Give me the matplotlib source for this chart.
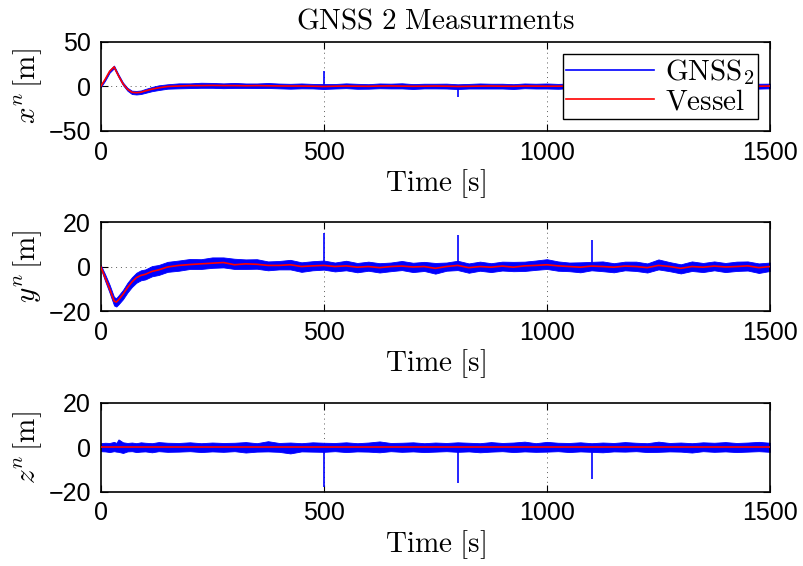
import numpy as np
import matplotlib
matplotlib.use('Agg')
import matplotlib.pyplot as plt
from matplotlib.lines import Line2D

plt.rcParams['font.family'] = ['Liberation Sans', 'DejaVu Sans']
plt.rcParams['mathtext.fontset'] = 'cm'

# Time knots [s]
t = np.array([0, 10, 20, 30, 35, 40, 50, 60, 70, 80, 90, 100, 115, 130, 150,
              175, 200, 225, 250, 275, 300, 325, 350, 375, 400, 425, 450, 475,
              500, 525, 550, 575, 600, 625, 650, 675, 700, 725, 750, 775,
              800, 825, 850, 875, 900, 925, 950, 975, 1000, 1025, 1050, 1075,
              1100, 1125, 1150, 1175, 1200, 1225, 1250, 1275, 1300, 1325, 1350,
              1375, 1400, 1425, 1450, 1475, 1500])

# Vessel position (red)
x_vessel = np.array([0, 8, 17, 22, 17, 12, 3, -3, -6.5, -7, -6.5, -5, -3, -1.5, 0,
                     0.5, 1, 1, 1.2, 1, 1, 0.8, 1, 0.8, 0.6, 0.5, 0.5, 0.3,
                     0, 0.3, 0.5, 0.3, 0.2, 0.5, 0.6, 0.4, 0.2, 0.3, 0.5, 0.3,
                     0, 0.2, 0.4, 0.5, 0.3, 0.2, 0.5, 0.4, 0.3, 0.3, 0.5, 0.4,
                     0.2, 0.3, 0.5, 0.3, 0.2, 0.4, 0.5, 0.3, 0.2, 0.4, 0.3,
                     0.5, 0.3, 0.2, 0.4, 0.3, 0.5])
y_vessel = np.array([0, -5, -10, -15.5, -16, -15, -12.5, -9.5, -7, -5, -4, -3.5, -2.2, -1.5, -0.2,
                     0.5, 0.9, 1.2, 1.5, 1.8, 0.8, 1.2, 1, 0.5, 0.5, 0.8, 0, 0.3,
                     0.5, 0, 0.3, -0.3, 0, -0.5, 0, 0.2, -0.2, 0, -0.8, 0,
                     0.5, -0.5, 0, -0.3, 0.2, -0.3, 0.3, 0.5, 0.8, 0.3, 0, -0.3,
                     0.2, 0, -0.3, 0.2, 0, -0.5, 0.5, 0, -0.8, 0, -0.3,
                     0.2, -0.2, 0, 0.3, -0.5, 0])
z_vessel = np.zeros(len(t))

# GNSS2 noise envelope around vessel (upper / lower offsets)
x_hi = np.array([1, 1.5, 1.5, 1.5, 1.5, 1.5, 1.5, 1.5, 1.8, 2, 2, 2.2, 2.5, 2.8, 2.5,
                 3, 2.5, 3.2, 2.8, 2.5, 3, 2.6, 2.4, 3.1, 2.7, 2.5, 2.9, 2.6,
                 2.8, 2.5, 3, 2.7, 2.4, 2.9, 2.6, 3.2, 2.5, 2.8, 2.6, 2.9,
                 2.5, 2.7, 3, 2.6, 2.8, 2.4, 2.9, 2.7, 3.1, 2.6, 2.8, 2.5,
                 2.9, 2.7, 2.6, 3, 2.5, 2.8, 2.7, 2.9, 2.6, 2.8, 3,
                 2.5, 2.7, 2.9, 2.6, 2.8, 2.7])
x_lo = np.array([1, 1.5, 1.5, 1.5, 1.5, 1.5, 1.5, 1.8, 2, 2, 2, 2.2, 2.3, 2.5, 2.5,
                 2.6, 2.8, 2.5, 2.7, 2.9, 2.6, 2.4, 2.8, 2.5, 2.7, 3, 2.6, 2.5,
                 2.8, 2.6, 2.4, 2.9, 2.7, 2.5, 2.8, 2.6, 3, 2.5, 2.7, 2.6,
                 2.9, 2.5, 2.7, 2.8, 2.6, 3, 2.5, 2.7, 2.6, 2.9, 2.5, 2.8,
                 2.6, 2.7, 3, 2.5, 2.8, 2.6, 2.7, 2.5, 2.9, 2.6, 2.8,
                 2.7, 2.5, 2.6, 2.9, 2.7, 2.6])
y_hi = np.array([0.8, 1.5, 1.8, 1.8, 1.8, 2, 2, 2.2, 2.2, 2.2, 2.3, 2.2, 2.4, 2.2, 2.3,
                 2.2, 2.5, 2.1, 2.6, 2.3, 2.7, 2, 2.3, 1.8, 2, 2.2, 1.9, 2.1,
                 2.2, 1.8, 2.3, 1.9, 2.2, 2, 1.8, 2.3, 1.9, 2.1, 2.4, 1.8,
                 2.1, 1.9, 2.2, 1.8, 2, 2.4, 1.9, 2.2, 2.5, 2, 1.8, 2.2,
                 1.9, 2.3, 1.8, 2, 2.2, 1.9, 2.7, 2, 1.8, 2.3, 1.9,
                 2.1, 1.8, 2.2, 2, 1.9, 1.8])
y_lo = np.array([0.8, 1.5, 1.8, 2, 2, 2, 2.2, 2.2, 2.2, 2.3, 2.2, 2.3, 2.2, 2.3, 2.2,
                 2.4, 2, 2.3, 2.1, 2.2, 1.9, 2.3, 2, 2.2, 1.8, 2.1, 2.4, 2,
                 1.9, 2.2, 2, 2.3, 1.9, 2.2, 2.1, 1.8, 2.3, 2, 2.4, 1.9,
                 2.1, 2.3, 1.9, 2.2, 2, 1.8, 2.3, 2, 1.9, 2.2, 2.1, 2.3,
                 1.9, 2.1, 2.3, 1.9, 2, 2.2, 1.8, 2.1, 2.3, 2, 2.2,
                 1.9, 2.3, 2, 2.1, 2.4, 2])
z_hi = np.array([1.8, 2, 1.9, 2.4, 1.9, 3.5, 2.2, 1.9, 2.1, 1.8, 2.2, 2, 1.8, 2.3, 2,
                 1.9, 2.2, 1.8, 2.1, 1.9, 2, 2.3, 1.8, 2.7, 1.9, 2.1, 1.8, 2.2,
                 2, 1.9, 2.2, 1.8, 2.1, 2.6, 1.9, 2, 2.2, 1.8, 2.1, 1.9,
                 2.2, 2, 1.8, 2.3, 1.9, 2.1, 2.5, 1.8, 2.4, 2, 1.9, 2.2,
                 1.8, 2.1, 1.9, 2.3, 2, 1.8, 2.5, 1.9, 2.1, 1.8, 2.2,
                 2, 2.3, 1.9, 2.1, 2.4, 2])
z_lo = np.array([1.8, 1.9, 2.2, 1.8, 2, 2.1, 2.6, 1.9, 1.8, 2.2, 2, 1.9, 2.3, 1.8, 2.1,
                 2, 1.8, 2.2, 1.9, 2.1, 1.8, 2.4, 2, 1.9, 2.1, 2.8, 1.9, 2,
                 2.1, 1.8, 2.2, 1.9, 2, 2.3, 1.8, 2.1, 1.9, 2.2, 2, 1.8,
                 2.1, 1.9, 2.3, 2, 1.8, 2.2, 1.9, 2.1, 2, 1.8, 2.2, 1.9,
                 2.1, 2.3, 1.9, 2, 1.8, 2.2, 2.1, 1.9, 2, 2.4, 1.8,
                 2.1, 1.9, 2.2, 2, 1.8, 2.1])

# Outlier spikes in GNSS2
x_spike_t = [500, 800]
x_spike_v = [17, -12]
y_spike_t = [500, 800, 1100]
y_spike_v = [15, 14, 12]
z_spike_t = [500, 800, 1100]
z_spike_v = [-18, -16, -14.5]

ylims = [(-50, 50), (-20, 20), (-20, 20)]
yticks = [[-50, 0, 50], [-20, 0, 20], [-20, 0, 20]]
ylabels = [r'$x^n\,[\mathrm{m}]$', r'$y^n\,[\mathrm{m}]$', r'$z^n\,[\mathrm{m}]$']

fig = plt.figure(figsize=(8.04, 5.66), dpi=100)
bottoms = [0.7686, 0.4505, 0.1313]
axes = [fig.add_axes([0.1252, b, 0.8325, 0.1572]) for b in bottoms]

data = [(x_vessel, x_hi, x_lo, x_spike_t, x_spike_v),
        (y_vessel, y_hi, y_lo, y_spike_t, y_spike_v),
        (z_vessel, z_hi, z_lo, z_spike_t, z_spike_v)]

for i, ax in enumerate(axes):
    ves, hi, lo, st, sv = data[i]
    ax.fill_between(t, ves - lo, ves + hi, color='blue', lw=0.6, zorder=2)
    base = np.interp(st, t, ves)
    ax.vlines(st, base, sv, color='blue', lw=1.2, zorder=2)
    ax.plot(t, ves, color='red', lw=1.2, zorder=3)

    ax.set_xlim(0, 1500)
    ax.set_ylim(*ylims[i])
    ax.set_xticks([0, 500, 1000, 1500])
    ax.set_yticks(yticks[i])
    ax.tick_params(direction='in', top=True, right=True, labelsize=18, length=5, pad=7)
    for s in ax.spines.values():
        s.set_linewidth(1.2)
    # dotted grid at interior ticks
    for xv in [500, 1000]:
        ax.axvline(xv, color='0.35', lw=0.7, ls=(0, (1, 4)), zorder=1)
    ax.axhline(0, color='0.35', lw=0.7, ls=(0, (1, 4)), zorder=1)
    ax.set_xlabel(r'$\mathrm{Time\ [s]}$', fontsize=21, labelpad=2)
    ax.set_ylabel(ylabels[i], fontsize=21, labelpad=3)

axes[0].set_title(r'$\mathrm{GNSS\ 2\ Measurments}$', fontsize=21, pad=10)

handles = [Line2D([], [], color='blue', lw=1.2), Line2D([], [], color='red', lw=1.2)]
leg = axes[0].legend(handles, [r'$\mathrm{GNSS}_2$', r'$\mathrm{Vessel}$'], loc='upper right',
                     fontsize=21, fancybox=False, edgecolor='black', framealpha=1,
                     handlelength=3.0, borderpad=0.12, labelspacing=0.0,
                     handletextpad=0.4, borderaxespad=0.4)
leg.get_frame().set_linewidth(1.0)

fig.savefig('out.png', dpi=100)
